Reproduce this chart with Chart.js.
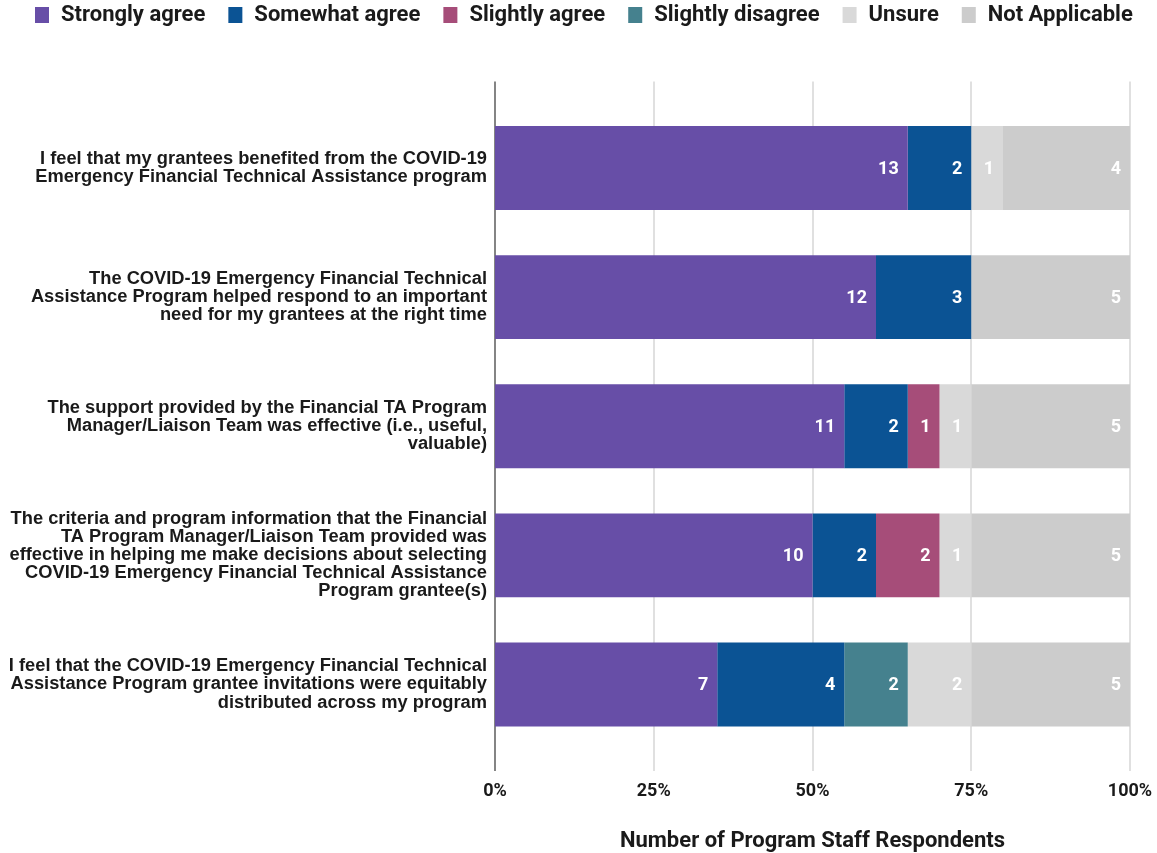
<!DOCTYPE html>
<html><head><meta charset="utf-8">
<script src="https://cdn.jsdelivr.net/npm/chart.js@4.4.1/dist/chart.umd.min.js"></script>
<style>html,body{margin:0;padding:0;background:#fff;}#wrap{width:1157px;height:853px;}</style>
</head><body><div id="wrap"><canvas id="c" width="1157" height="853"></canvas></div>
<script>
const categories = [
  ["I feel that my grantees benefited from the COVID-19", "Emergency Financial Technical Assistance program"],
  ["The COVID-19 Emergency Financial Technical", "Assistance Program helped respond to an important", "need for my grantees at the right time"],
  ["The support provided by the Financial TA Program", "Manager/Liaison Team was effective (i.e., useful,", "valuable)"],
  ["The criteria and program information that the Financial", "TA Program Manager/Liaison Team provided was", "effective in helping me make decisions about selecting", "COVID-19 Emergency Financial Technical Assistance", "Program grantee(s)"],
  ["I feel that the COVID-19 Emergency Financial Technical", "Assistance Program grantee invitations were equitably", "distributed across my program"]
];
const seriesNames = ["Strongly agree", "Somewhat agree", "Slightly agree", "Slightly disagree", "Unsure", "Not Applicable"];
const stronglyAgree    = [13, 12, 11, 10, 7];
const somewhatAgree    = [2, 3, 2, 2, 4];
const slightlyAgree    = [0, 0, 1, 2, 0];
const slightlyDisagree = [0, 0, 0, 0, 2];
const unsure           = [1, 0, 1, 1, 2];
const notApplicable    = [4, 5, 5, 5, 5];
const xTickValues = [0, 25, 50, 75, 100];
const axisTitle = "Number of Program Staff Respondents";

const seriesCounts = [stronglyAgree, somewhatAgree, slightlyAgree, slightlyDisagree, unsure, notApplicable];
const seriesColors = ['#674ea7', '#0b5394', '#a64d79', '#45818e', '#d9d9d9', '#cccccc'];
const totals = categories.map((_, i) => seriesCounts.reduce((s, arr) => s + arr[i], 0));

const datasets = seriesNames.map((name, k) => ({
  label: name,
  counts: seriesCounts[k],
  data: seriesCounts[k].map((v, i) => v / totals[i] * 100),
  backgroundColor: seriesColors[k],
  borderWidth: 0,
  categoryPercentage: 1.0,
  barPercentage: 0.65
}));

const extGrid = {
  id: 'extGrid',
  beforeDatasetsDraw(chart) {
    const {ctx, chartArea, scales: {x}} = chart;
    ctx.save();
    xTickValues.forEach(v => {
      const px = Math.round(x.getPixelForValue(v));
      ctx.beginPath();
      if (v === 0) { ctx.strokeStyle = '#333333'; ctx.lineWidth = 1.2; }
      else { ctx.strokeStyle = '#d9d9d9'; ctx.lineWidth = 1.6; }
      ctx.moveTo(px, chartArea.top - 22);
      ctx.lineTo(px, chartArea.bottom + 22);
      ctx.stroke();
    });
    ctx.restore();
  }
};

const valueLabels = {
  id: 'valueLabels',
  afterDatasetsDraw(chart) {
    const ctx = chart.ctx;
    ctx.save();
    ctx.font = 'bold 18px Roboto';
    ctx.fillStyle = '#ffffff';
    ctx.textAlign = 'right';
    ctx.textBaseline = 'middle';
    chart.data.datasets.forEach((ds, di) => {
      const meta = chart.getDatasetMeta(di);
      meta.data.forEach((el, i) => {
        const c = ds.counts[i];
        if (!c) return;
        ctx.fillText(String(c), el.x - 9, el.y + 1);
      });
    });
    ctx.restore();
  }
};

const topLegend = {
  id: 'topLegend',
  afterDraw(chart) {
    const ctx = chart.ctx;
    ctx.save();
    ctx.font = 'bold 22px Roboto';
    ctx.textBaseline = 'middle';
    ctx.textAlign = 'left';
    let x = 35;
    chart.data.datasets.forEach(ds => {
      ctx.fillStyle = ds.backgroundColor;
      ctx.fillRect(x, 7, 14, 16);
      ctx.fillStyle = '#1a1a1a';
      ctx.fillText(ds.label, x + 26, 15);
      x += 26 + ctx.measureText(ds.label).width + 23;
    });
    ctx.restore();
  }
};

new Chart(document.getElementById('c'), {
  type: 'bar',
  data: { labels: categories, datasets },
  options: {
    indexAxis: 'y',
    responsive: false,
    animation: false,
    layout: { padding: { top: 103.5, right: 27, left: 0, bottom: 0 } },
    plugins: { legend: { display: false }, tooltip: { enabled: false } },
    scales: {
      x: {
        stacked: true, min: 0, max: 100,
        ticks: { stepSize: 25, callback: v => v + '%', font: { family: 'Roboto', weight: 'bold', size: 18 }, color: '#1a1a1a', padding: 32 },
        grid: { display: false, drawTicks: false },
        border: { display: false },
        title: { display: true, text: axisTitle, font: { family: 'Roboto', weight: 'bold', size: 22 }, color: '#1a1a1a', padding: { top: 0, bottom: -2 } },
        afterFit: s => { s.height = 104; s.paddingLeft = 0; s.paddingRight = 0; }
      },
      y: {
        stacked: true,
        ticks: { font: { family: "'Liberation Sans', Arial, sans-serif", weight: 'bold', size: 18.3, lineHeight: 0.985 }, color: '#1a1a1a', padding: 8 },
        grid: { display: false, drawTicks: false },
        border: { display: false },
        afterFit: s => { s.width = 495; s.paddingTop = 0; s.paddingBottom = 0; }
      }
    }
  },
  plugins: [extGrid, valueLabels, topLegend]
});
</script>
</body></html>
